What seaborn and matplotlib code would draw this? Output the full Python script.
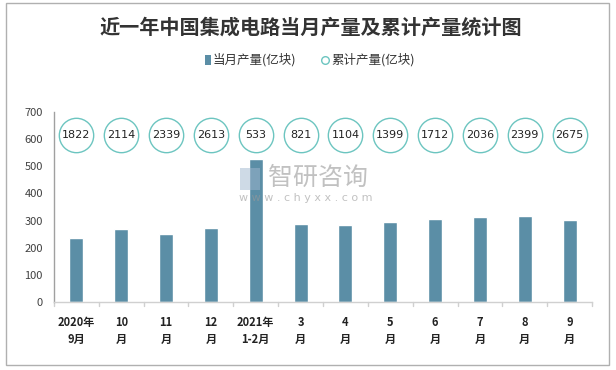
import matplotlib
matplotlib.use("Agg")
import matplotlib.pyplot as plt
import seaborn as sns
import pandas as pd
from matplotlib.patches import Rectangle

categories = ["2020年\n9月", "10\n月", "11\n月", "12\n月", "2021年\n1-2月", "3\n月",
              "4\n月", "5\n月", "6\n月", "7\n月", "8\n月", "9\n月"]
monthly = [235, 268, 250, 273, 527, 287, 283, 294, 306, 312, 316, 302]
cumulative = [1822, 2114, 2339, 2613, 533, 821, 1104, 1399, 1712, 2036, 2399, 2675]
yticks = [0, 100, 200, 300, 400, 500, 600, 700]

sns.set_theme(style="white")
plt.rcParams['font.family'] = ['Noto Sans CJK SC', 'DejaVu Sans']

df = pd.DataFrame({"cat": categories, "val": monthly})

fig = plt.figure(figsize=(6.16, 3.70), dpi=100)
ax = fig.add_axes([54/616, 1-302/370, (592-54)/616, (302-112)/370])

bar_color = "#5b8ea6"
circ_color = "#6cc5c0"
sns.barplot(data=df, x="cat", y="val", color=bar_color, width=0.31, ax=ax,
            saturation=1, order=categories)

# cumulative circles
ypos = 616
xs = list(range(len(categories)))
ax.scatter(xs, [ypos]*len(xs), s=35**2*0.50, facecolor="white", edgecolor=circ_color,
           linewidth=1.0, zorder=3, clip_on=False)
for x, c in zip(xs, cumulative):
    ax.text(x, ypos, str(c), ha="center", va="center", fontsize=8, color="#222222",
            zorder=4, family=['DejaVu Sans'])

ax.set_xlim(-0.5, len(categories) - 0.5)
ax.set_ylim(0, 700)
ax.set_yticks(yticks)
ax.set_yticklabels([str(v) for v in yticks], fontsize=8, color="#404040")
ax.set_xlabel("")
ax.set_ylabel("")
ax.set_xticks(xs)
ax.set_xticklabels(categories, fontsize=8, fontweight="bold", color="#222222", linespacing=1.4)
ax.tick_params(axis="x", length=0, pad=10)
ax.tick_params(axis="y", length=0, pad=8)
# boundary ticks
for b in [i - 0.5 for i in range(len(categories) + 1)]:
    ax.plot([b, b], [0, -0.02], transform=ax.get_xaxis_transform(), color="#d0d0d0",
            lw=1, clip_on=False)

for s in ["top", "right"]:
    ax.spines[s].set_visible(False)
ax.spines["left"].set_color("#a0a0a0")
ax.spines["left"].set_linewidth(1)
ax.spines["bottom"].set_color("#d0d0d0")
ax.spines["bottom"].set_linewidth(1)

# title
fig.text(311/616, 1-27/370, "近一年中国集成电路当月产量及累计产量统计图", ha="center", va="center",
         fontsize=14.5, fontweight="bold", color="#333333")

# legend
ly = 1-60/370
fig.patches.append(Rectangle((205/616, ly-0.014), 6/616, 10/370, transform=fig.transFigure,
                             facecolor=bar_color, edgecolor="none"))
fig.text(213/616, ly, "当月产量(亿块)", ha="left", va="center", fontsize=9, color="#333333")
fig.add_artist(plt.Line2D([325/616], [ly], marker="o", markersize=5.5, markerfacecolor="white",
                          markeredgecolor=circ_color, markeredgewidth=1, transform=fig.transFigure))
fig.text(331/616, ly, "累计产量(亿块)", ha="left", va="center", fontsize=9, color="#333333")

# watermark
fig.patches.append(Rectangle((240/616, 1-190/370), 20/616, 22/370, transform=fig.transFigure,
                             facecolor="#9fb7cf", edgecolor="none", alpha=0.5))
fig.text(268/616, 1-178/370, "智研咨询", ha="left", va="center", fontsize=18,
         color="#999999", alpha=0.6)
fig.text(239/616, 1-198/370, "w w w . c h y x x . c o m", ha="left", va="center",
         fontsize=8, color="#999999", alpha=0.6, family=['DejaVu Sans'])

# outer border
fig.patches.append(Rectangle((6/616, 5/370), 603/616, 362/370, transform=fig.transFigure,
                             facecolor="none", edgecolor="#b0b0b0", lw=1))

fig.savefig("out.png", dpi=100)
